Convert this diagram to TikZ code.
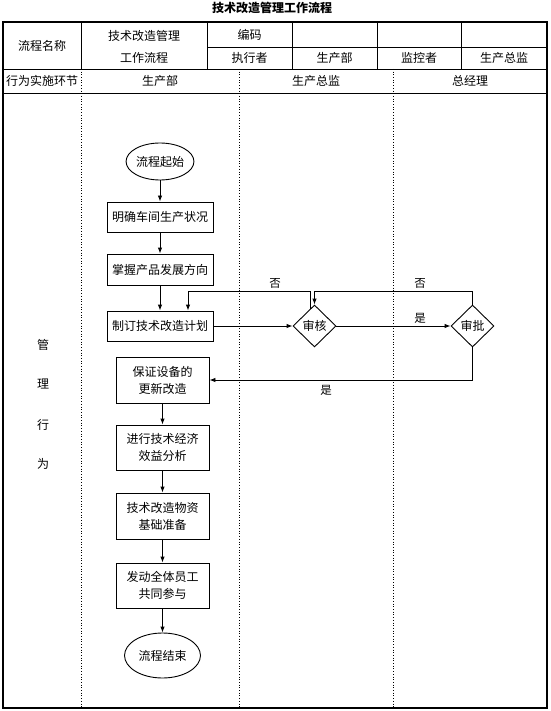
\documentclass[tikz,border=0pt]{standalone}
\usepackage{fontspec}
\setmainfont{Noto Sans CJK SC}
\usetikzlibrary{shapes.geometric,arrows.meta}
\begin{document}
\begin{tikzpicture}[x=1pt,y=-1pt,
  every node/.style={font=\fontsize{12}{17}\selectfont, inner sep=0pt},
  outer/.style={line width=1.3pt},
  inner/.style={line width=0.6pt},
  lane/.style={line width=0.7pt, dotted},
  box/.style={draw, line width=0.9pt, rectangle, align=center},
  oval/.style={draw, line width=0.9pt, ellipse},
  dia/.style={draw, line width=0.9pt, diamond, minimum width=43pt, minimum height=42pt},
  arr/.style={line width=0.9pt, -{Latex[length=6pt,width=4.5pt]}},
  lbl/.style={font=\fontsize{11.5}{13}\selectfont}
]
\useasboundingbox (0,0) rectangle (550,711);

% title
\node (title) at (272,8) {\textbf{技术改造管理工作流程}};

% table frame
\draw[outer] (3,22) rectangle (547,708);
\draw[inner] (3,69) -- (547,69);
\draw[inner] (3,93) -- (547,93);
\draw[inner] (81,22) -- (81,69);
\draw[inner] (207,22) -- (207,69);
\draw[inner] (207,47) -- (547,47);
\draw[inner] (292,22) -- (292,69);
\draw[inner] (377,22) -- (377,69);
\draw[inner] (461,22) -- (461,69);
\draw[lane] (81,69) -- (81,708);
\draw[lane] (239,69) -- (239,708);
\draw[lane] (393,69) -- (393,708);

% header texts
\node (h1) at (42,46) {流程名称};
\node (h2) at (144,36) {技术改造管理};
\node (h3) at (144,58) {工作流程};
\node (h4) at (249.5,35) {编码};
\node (h5) at (249.5,58) {执行者};
\node (h6) at (334.5,58) {生产部};
\node (h7) at (419,58) {监控者};
\node (h8) at (504,58) {生产总监};
\node (r1) at (42,81) {行为实施环节};
\node (r2) at (160,81) {生产部};
\node (r3) at (316,81) {生产总监};
\node (r4) at (470,81) {总经理};

% side label
\node (v1) at (43,345) {管};
\node (v2) at (43,384) {理};
\node (v3) at (43,425) {行};
\node (v4) at (43,464) {为};

% flow nodes
\node[oval, minimum width=65pt, minimum height=37pt] (start) at (160,161.5) {流程起始};
\node[box, minimum width=106pt, minimum height=30pt] (mq) at (160,217) {明确车间生产状况};
\node[box, minimum width=106pt, minimum height=31pt] (zw) at (160,269.5) {掌握产品发展方向};
\node[box, minimum width=106pt, minimum height=30pt] (zd) at (160,326) {制订技术改造计划};
\node[dia] (sh) at (314.5,326) {审核};
\node[dia] (sp) at (472.5,326) {审批};
\node[box, minimum width=93pt, minimum height=46pt] (bz) at (162.5,380) {保证设备的\\更新改造};
\node[box, minimum width=93pt, minimum height=45pt] (jx) at (162.5,447.5) {进行技术经济\\效益分析};
\node[box, minimum width=93pt, minimum height=46pt] (wz) at (162.5,516) {技术改造物资\\基础准备};
\node[box, minimum width=93pt, minimum height=45pt] (fd) at (162.5,585.5) {发动全体员工\\共同参与};
\node[oval, minimum width=76pt, minimum height=45pt] (end) at (162.5,655.5) {流程结束};

\coordinate (f1) at (188,291);

% connectors
\draw[arr] (start) -- (mq);
\draw[arr] (mq) -- (zw);
\draw[arr] (zw) -- (zd);
\draw[arr] (zd) -- (sh);
\draw[arr] (sh) -- (sp);
\draw[arr] (sh.105) |- (f1) -- (f1 |- zd.north);
\draw[arr] (sp.north) |- (sh.north |- f1) -- (sh.north);
\draw[arr] (sp.south) |- (bz.east);
\draw[arr] (bz) -- (jx);
\draw[arr] (jx) -- (wz);
\draw[arr] (wz) -- (fd);
\draw[arr] (fd) -- (end);

% connector labels
\node[lbl] (no1) at (275,283) {否};
\node[lbl] (no2) at (420,283) {否};
\node[lbl] (yes1) at (420,318) {是};
\node[lbl] (yes2) at (326,390) {是};
\end{tikzpicture}
\end{document}
